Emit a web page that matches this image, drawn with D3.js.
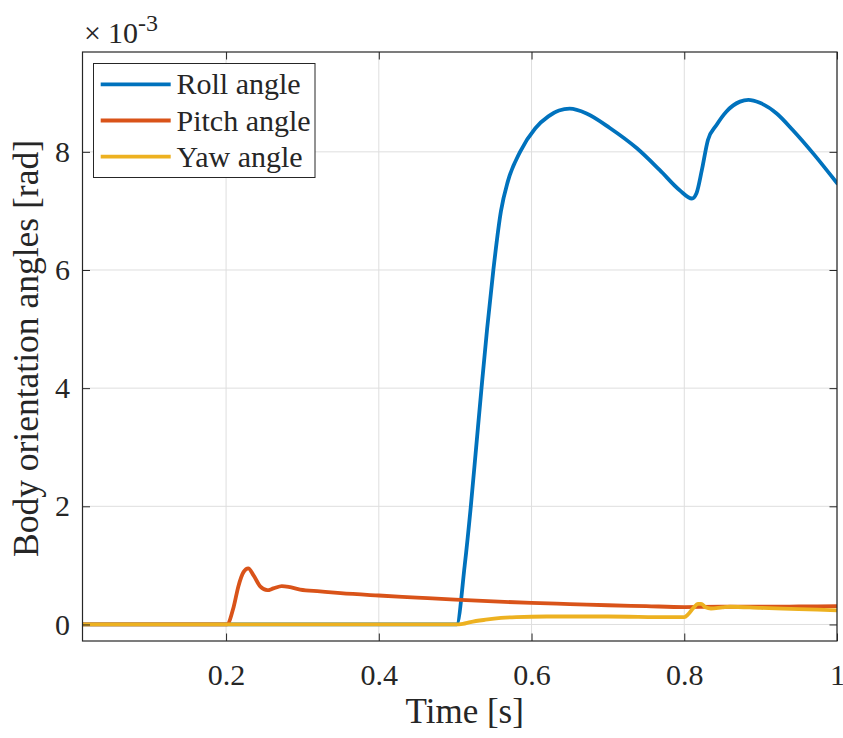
<!DOCTYPE html>
<html>
<head>
<meta charset="utf-8">
<script src="https://cdn.jsdelivr.net/npm/d3@7"></script>
<style>
  html, body { margin: 0; padding: 0; background: #ffffff; }
  svg { display: block; }
  text { font-family: "Liberation Serif", "Times New Roman", serif; fill: #262626; }
</style>
</head>
<body>
<svg id="chart" width="843" height="738"></svg>
<script>
// Body orientation angles (×10^-3 rad) over time [s]
const seriesNames = ["Roll angle", "Pitch angle", "Yaw angle"];
const seriesColors = ["#0072BD", "#D95319", "#EDB120"];

const rollTime  = [0.012, 0.50, 0.502, 0.5125, 0.5205, 0.5275, 0.5345, 0.5418, 0.5500, 0.5600, 0.5690, 0.5850, 0.6050, 0.6220, 0.6360, 0.650, 0.672, 0.703, 0.738, 0.768, 0.794, 0.810, 0.816, 0.823, 0.831, 0.842, 0.855, 0.873, 0.884, 0.899, 0.921, 0.942, 0.969, 1.0];
const rollValues = [0, 0, 0, 1.0, 2.0, 3.0, 4.0, 5.0, 6.0, 7.0, 7.5, 8.0, 8.4, 8.6, 8.7, 8.73, 8.65, 8.40, 8.06, 7.69, 7.35, 7.21, 7.30, 7.69, 8.20, 8.45, 8.68, 8.85, 8.88, 8.83, 8.65, 8.37, 7.97, 7.47];

const pitchTime  = [0.012, 0.201, 0.210, 0.216, 0.223, 0.229, 0.236, 0.245, 0.254, 0.262, 0.273, 0.284, 0.297, 0.323, 0.35, 0.40, 0.45, 0.50, 0.55, 0.60, 0.65, 0.70, 0.75, 0.80, 0.85, 0.90, 0.95, 1.0];
const pitchValues = [0, 0, 0.30, 0.64, 0.89, 0.95, 0.83, 0.64, 0.58, 0.61, 0.65, 0.63, 0.59, 0.56, 0.53, 0.49, 0.455, 0.42, 0.39, 0.365, 0.345, 0.325, 0.31, 0.295, 0.30, 0.30, 0.305, 0.31];

const yawTime  = [0.012, 0.50, 0.51, 0.52, 0.54, 0.56, 0.58, 0.62, 0.70, 0.78, 0.80, 0.805, 0.812, 0.818, 0.822, 0.828, 0.835, 0.85, 0.86, 0.90, 0.95, 1.0];
const yawValues = [0, 0, 0.01, 0.04, 0.08, 0.11, 0.125, 0.135, 0.135, 0.125, 0.125, 0.17, 0.28, 0.35, 0.35, 0.29, 0.27, 0.29, 0.30, 0.28, 0.26, 0.24];

const xTicks = [0.2, 0.4, 0.6, 0.8, 1];
const xTickLabels = ["0.2", "0.4", "0.6", "0.8", "1"];
const yTicks = [0, 2, 4, 6, 8];
const yTickLabels = ["0", "2", "4", "6", "8"];

const svg = d3.select("#chart");
const plot = { left: 82.5, right: 837, top: 52, bottom: 641 };
const serif = '"Liberation Serif", "Times New Roman", serif';

const x = d3.scaleLinear().domain([0.012, 1]).range([plot.left, plot.right]);
const y = d3.scaleLinear().domain([-0.28, 9.69]).range([plot.bottom, plot.top]);

// grid
const grid = svg.append("g");
grid.selectAll("line.gx").data(xTicks).join("line")
  .attr("x1", d => x(d)).attr("x2", d => x(d))
  .attr("y1", plot.top).attr("y2", plot.bottom)
  .attr("stroke", "#dedede").attr("stroke-width", 1);
grid.selectAll("line.gy").data(yTicks).join("line")
  .attr("y1", d => y(d)).attr("y2", d => y(d))
  .attr("x1", plot.left).attr("x2", plot.right)
  .attr("stroke", "#dedede").attr("stroke-width", 1);

// series
const defs = svg.append("defs");
defs.append("clipPath").attr("id", "plotClip").append("rect")
  .attr("x", plot.left).attr("y", plot.top)
  .attr("width", plot.right - plot.left).attr("height", plot.bottom - plot.top);

const series = [
  { name: seriesNames[0], color: seriesColors[0], t: rollTime, v: rollValues },
  { name: seriesNames[1], color: seriesColors[1], t: pitchTime, v: pitchValues },
  { name: seriesNames[2], color: seriesColors[2], t: yawTime, v: yawValues }
];

const line = d3.line()
  .x(d => x(d[0])).y(d => y(d[1]))
  .curve(d3.curveMonotoneX);

const lines = svg.append("g").attr("clip-path", "url(#plotClip)");
series.forEach(s => {
  lines.append("path")
    .datum(s.t.map((t, i) => [t, s.v[i]]))
    .attr("fill", "none")
    .attr("stroke", s.color)
    .attr("stroke-width", 3.8)
    .attr("stroke-linejoin", "round")
    .attr("stroke-linecap", "round")
    .attr("d", line);
});

// axes (box with inward ticks on all sides)
const tickLen = 7.5;
const axisColor = "#262626";
const bottomAxis = d3.axisBottom(x).tickValues(xTicks).tickFormat((d, i) => xTickLabels[i]).tickSizeInner(-tickLen).tickSizeOuter(0).tickPadding(23);
const leftAxis = d3.axisLeft(y).tickValues(yTicks).tickFormat((d, i) => yTickLabels[i]).tickSizeInner(-tickLen).tickSizeOuter(0).tickPadding(12.5);
const topAxis = d3.axisTop(x).tickValues(xTicks).tickFormat("").tickSizeInner(-tickLen).tickSizeOuter(0);
const rightAxis = d3.axisRight(y).tickValues(yTicks).tickFormat("").tickSizeInner(-tickLen).tickSizeOuter(0);

function styleAxis(g) {
  g.attr("font-family", null).attr("font-size", null);
  g.select(".domain").remove();
  g.selectAll(".tick line").attr("stroke", axisColor).attr("stroke-width", 1);
  g.selectAll(".tick text").attr("fill", axisColor)
    .attr("font-family", serif)
    .style("font-family", serif)
    .style("font-size", "30px");
}

svg.append("g").attr("transform", `translate(0,${plot.bottom})`).call(bottomAxis).call(styleAxis);
svg.append("g").attr("transform", `translate(${plot.left},0)`).call(leftAxis).call(styleAxis);
svg.append("g").attr("transform", `translate(0,${plot.top})`).call(topAxis).call(styleAxis);
svg.append("g").attr("transform", `translate(${plot.right},0)`).call(rightAxis).call(styleAxis);

svg.append("rect")
  .attr("x", plot.left).attr("y", plot.top)
  .attr("width", plot.right - plot.left).attr("height", plot.bottom - plot.top)
  .attr("fill", "none").attr("stroke", axisColor).attr("stroke-width", 1.2);

// exponent label
svg.append("text").attr("x", 84).attr("y", 43).style("font-size", "30px").text("×");
svg.append("text").attr("x", 108).attr("y", 43).style("font-size", "30px").text("10");
svg.append("text").attr("x", 138).attr("y", 31).style("font-size", "24px").text("-3");

// axis titles
svg.append("text")
  .attr("x", (plot.left + plot.right) / 2 + 5).attr("y", 723)
  .attr("text-anchor", "middle").style("font-size", "35px")
  .text("Time [s]");

svg.append("text")
  .attr("transform", `translate(38,348.5) rotate(-90)`)
  .attr("text-anchor", "middle").style("font-size", "35.5px")
  .text("Body orientation angles [rad]");

// legend
const legend = svg.append("g");
legend.append("rect")
  .attr("x", 93.5).attr("y", 63.5).attr("width", 221.5).attr("height", 114)
  .attr("fill", "#ffffff").attr("stroke", axisColor).attr("stroke-width", 1);
const rowY = d3.scaleLinear().domain([0, 2]).range([84.3, 156.7]);
series.forEach((s, i) => {
  legend.append("line")
    .attr("x1", 100.7).attr("x2", 170.7)
    .attr("y1", rowY(i)).attr("y2", rowY(i))
    .attr("stroke", s.color).attr("stroke-width", 3.8);
  legend.append("text")
    .attr("x", 176.5).attr("y", rowY(i) + 10)
    .style("font-size", "30px")
    .text(s.name);
});
</script>
</body>
</html>
